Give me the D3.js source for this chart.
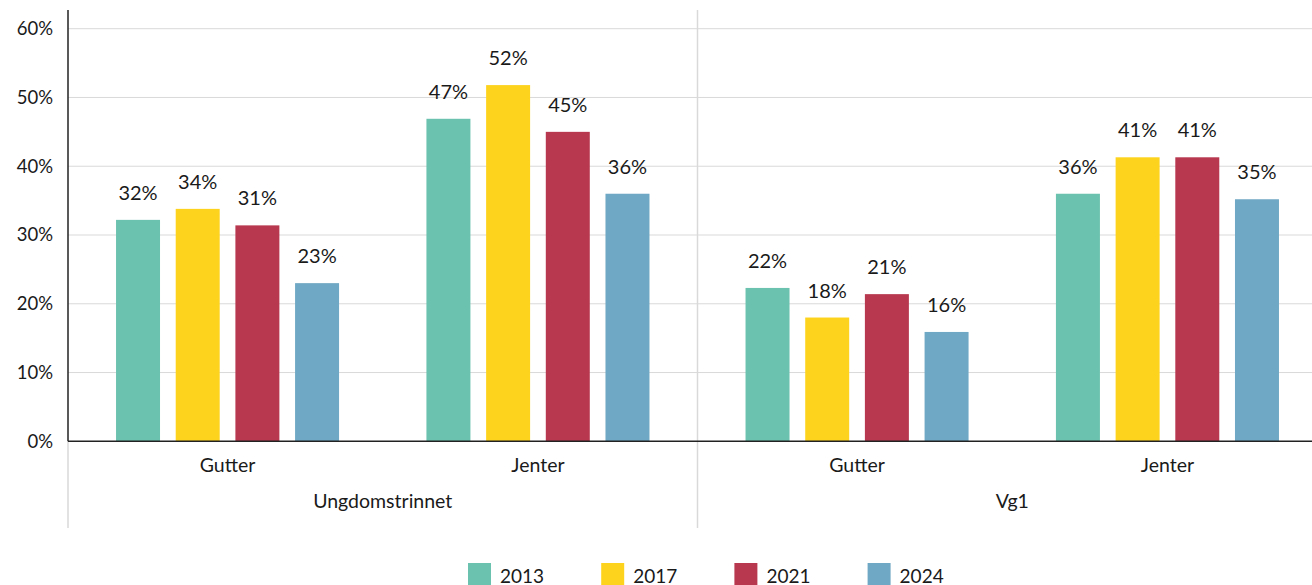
<!DOCTYPE html>
<html>
<head>
<meta charset="utf-8">
<script src="https://cdn.jsdelivr.net/npm/d3@7"></script>
<style>
  body { margin: 0; background: #fff; }
  svg { display: block; font-family: "Lato", "Noto Sans", sans-serif; }
</style>
</head>
<body>
<div id="chart"></div>
<script>
// --- data ---
const levels = ["Ungdomstrinnet", "Vg1"];
const genders = ["Gutter", "Jenter"];
const years = ["2013", "2017", "2021", "2024"];
const colors = ["#6bc2ae", "#fdd31e", "#b8384f", "#6fa8c4"];
// values per year (%), one array per level + gender
const ungGutter = [32.2, 33.8, 31.4, 23.0];
const ungJenter = [46.9, 51.8, 45.0, 36.0];
const vgGutter  = [22.3, 18.0, 21.4, 15.9];
const vgJenter  = [36.0, 41.3, 41.3, 35.2];
const yTicks = [0, 10, 20, 30, 40, 50, 60];

const rows = [
  { level: levels[0], gender: genders[0], values: ungGutter },
  { level: levels[0], gender: genders[1], values: ungJenter },
  { level: levels[1], gender: genders[0], values: vgGutter },
  { level: levels[1], gender: genders[1], values: vgJenter }
];

const W = 1312, H = 585;
const mLeft = 68, mRight = 1327, mTop = 10, mBottom = 441.3;

const svg = d3.select("#chart").append("svg").attr("width", W).attr("height", H);

const y = d3.scaleLinear().domain([0, 60]).range([mBottom, 28.7]);
const lv = d3.scaleBand().domain(levels).range([mLeft, mRight]);
const gx = d3.scaleBand().domain(genders).range([0, lv.bandwidth()]).paddingInner(0).paddingOuter(0.014);
const x1 = d3.scaleBand().domain(years).range([0, gx.bandwidth()]).paddingInner(0.263).paddingOuter(0.732);
const groupX = d => lv(d.level) + gx(d.gender);

// gridlines + tick labels
svg.append("g").selectAll("line").data(yTicks.filter(t => t > 0)).join("line")
  .attr("x1", mLeft).attr("x2", W).attr("y1", d => y(d)).attr("y2", d => y(d))
  .attr("stroke", "#d9d9d9").attr("stroke-width", 1);
svg.append("g").selectAll("text").data(yTicks).join("text")
  .attr("x", 53).attr("y", d => y(d)).attr("dy", "0.35em")
  .attr("text-anchor", "end").attr("font-size", 18.5).attr("fill", "#1a1a1a")
  .text(d => d + "%");

// level dividers (light gray)
svg.append("line").attr("x1", mLeft).attr("x2", mLeft).attr("y1", mBottom).attr("y2", 528)
  .attr("stroke", "#d9d9d9").attr("stroke-width", 1.5);
svg.append("line").attr("x1", lv("Vg1")).attr("x2", lv("Vg1")).attr("y1", mTop).attr("y2", 528)
  .attr("stroke", "#d9d9d9").attr("stroke-width", 1.5);

// bars
const g = svg.append("g").selectAll("g").data(rows).join("g")
  .attr("transform", d => `translate(${groupX(d)},0)`);
g.selectAll("rect").data(d => d.values.map((v, i) => ({ v, i }))).join("rect")
  .attr("x", d => x1(years[d.i])).attr("width", x1.bandwidth())
  .attr("y", d => y(d.v)).attr("height", d => mBottom - y(d.v))
  .attr("fill", d => colors[d.i]);
g.selectAll("text").data(d => d.values.map((v, i) => ({ v, i }))).join("text")
  .attr("x", d => x1(years[d.i]) + x1.bandwidth() / 2).attr("y", d => y(d.v) - 20)
  .attr("text-anchor", "middle").attr("font-size", 20).attr("fill", "#1a1a1a")
  .text(d => Math.round(d.v) + "%");

// axis lines
svg.append("line").attr("x1", mLeft).attr("x2", mLeft).attr("y1", mTop).attr("y2", mBottom)
  .attr("stroke", "#222").attr("stroke-width", 1.5);
svg.append("line").attr("x1", mLeft).attr("x2", W).attr("y1", mBottom).attr("y2", mBottom)
  .attr("stroke", "#222").attr("stroke-width", 1.5);

// category labels
svg.append("g").selectAll("text").data(rows).join("text")
  .attr("x", d => groupX(d) + gx.bandwidth() / 2).attr("y", 471.5)
  .attr("text-anchor", "middle").attr("font-size", 19.5).attr("fill", "#1a1a1a")
  .text(d => d.gender);
svg.append("g").selectAll("text").data(levels).join("text")
  .attr("x", d => lv(d) + lv.bandwidth() / 2).attr("y", 508)
  .attr("text-anchor", "middle").attr("font-size", 19.5).attr("fill", "#1a1a1a")
  .text(d => d);

// legend
const lg = svg.append("g").selectAll("g").data(years).join("g")
  .attr("transform", (d, i) => `translate(${468 + i * 133.2},563)`);
lg.append("rect").attr("width", 23).attr("height", 23).attr("fill", (d, i) => colors[i]);
lg.append("text").attr("x", 32).attr("y", 19.5).attr("font-size", 19).attr("fill", "#1a1a1a").text(d => d);
</script>
</body>
</html>
